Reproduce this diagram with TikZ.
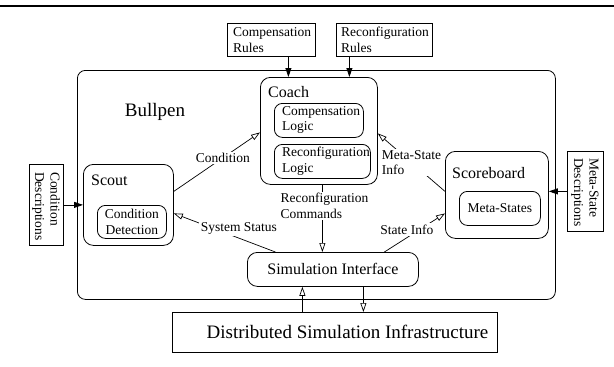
\documentclass[tikz,border=0pt]{standalone}
\usepackage{fontspec}
\setmainfont{Liberation Serif}
\usetikzlibrary{arrows.meta,calc}

\begin{document}
\begin{tikzpicture}[x=1pt,y=-1pt,
  rbox/.style={draw,line width=0.8pt,rounded corners=9pt,inner sep=0pt,anchor=north west},
  pbox/.style={draw,line width=0.8pt,inner sep=0pt,anchor=north west},
  small/.style={font=\fontsize{13.5}{15.5}\selectfont},
  mid/.style={font=\fontsize{16}{18}\selectfont},
  big/.style={font=\fontsize{19}{22}\selectfont},
  txt/.style={inner sep=0pt,align=left},
  feed/.style={-{Triangle[length=9pt,width=6pt]},line width=0.8pt},
  flow/.style={-{Triangle[open,length=9pt,width=6pt]},line width=0.7pt},
  lbl/.style={small,fill=white,inner sep=1.5pt,align=left}
]
\useasboundingbox (0,0) rectangle (614,367);

% rule across the top
\draw[line width=2.5pt] (0,6) -- (614,6);

% outer container
\node[rbox,rounded corners=8pt,minimum width=478pt,minimum height=229pt] (bullpen) at (77,70) {};
\node[big,txt] (bullpentext) at (155,112) {Bullpen};

% coach with its two logic blocks
\node[rbox,rounded corners=10pt,minimum width=117pt,minimum height=107pt] (coach) at (260,77) {};
\node[mid,txt,anchor=west] (coachtext) at (268,92) {Coach};
\node[rbox,rounded corners=8pt,minimum width=89pt,minimum height=34pt] (complogic) at (274,103) {};
\node[small,txt,anchor=west] (complogictext) at (282,120) {Compensation\\Logic};
\node[rbox,rounded corners=8pt,minimum width=96pt,minimum height=34pt] (reconflogic) at (274,144) {};
\node[small,txt,anchor=west] (reconflogictext) at (282,161) {Reconfiguration\\Logic};

% scout
\node[rbox,rounded corners=10pt,minimum width=90pt,minimum height=81pt] (scout) at (83,164) {};
\node[mid,txt,anchor=west] (scouttext) at (91,180) {Scout};
\node[rbox,rounded corners=8pt,minimum width=69pt,minimum height=33pt,small,align=center] (detect) at (97,205) {Condition\\Detection};

% scoreboard
\node[rbox,rounded corners=10pt,minimum width=103pt,minimum height=87pt] (scoreboard) at (445,151) {};
\node[mid,txt,anchor=west] (scoreboardtext) at (452,173) {Scoreboard};
\node[rbox,rounded corners=8pt,minimum width=81pt,minimum height=34pt,small] (metastates) at (459,191) {Meta-States};

% simulation side
\node[rbox,rounded corners=10pt,minimum width=171pt,minimum height=34pt,mid] (siminterface) at (247,252) {Simulation Interface};
\node[pbox,minimum width=325pt,minimum height=40pt] (dsi) at (172,312) {};
\node[big,txt] (dsitext) at (347.5,332) {Distributed Simulation Infrastructure};

% external inputs
\node[pbox,minimum width=88pt,minimum height=33pt] (comprules) at (227,23) {};
\node[small,txt,anchor=west] (comprulestext) at (233,40) {Compensation\\Rules};
\node[pbox,minimum width=96pt,minimum height=33pt] (reconfrules) at (336,23) {};
\node[small,txt,anchor=west] (reconfrulestext) at (341,40) {Reconfiguration\\Rules};
\node[pbox,minimum width=34pt,minimum height=81pt] (conddesc) at (29,164) {};
\node[small,txt,rotate=-90,anchor=west] (conddesctext) at (46,172) {Condition\\Descriptions};
\node[pbox,minimum width=36pt,minimum height=80pt] (metadesc) at (567,151) {};
\node[small,txt,rotate=-90,anchor=west] (metadesctext) at (585,158) {Meta-State\\Descriptions};

% inputs feeding the components
\coordinate (cr) at ([xshift=17pt]comprules.south);
\draw[feed] (cr) -- (cr |- coach.north);
\coordinate (rr) at ([xshift=-35pt]reconfrules.south);
\draw[feed] (rr) -- (rr |- coach.north);
\draw[feed] (conddesc.east) -- (scout.west);
\draw[feed] (metadesc.west) -- (metadesc.west -| scoreboard.east);

% flows between the components
\draw[flow] ([yshift=13.5pt]scout.east) -- ([yshift=-1.5pt]coach.west)
  node[lbl,pos=0.57] {Condition};
\draw[flow] ([yshift=3.5pt]scoreboard.west) -- ([yshift=-2.5pt]coach.east)
  node[lbl,pos=0.5] {Meta-State\\Info};
\draw[flow] ([xshift=-57.5pt]siminterface.north) -- ([yshift=-8.5pt]scout.east)
  node[lbl,pos=0.36,yshift=10pt] {System Status};
\draw[flow] ([xshift=51.5pt]siminterface.north) -- ([yshift=-18.5pt]scoreboard.west)
  node[lbl,pos=0.37,yshift=8pt] {State Info};
\coordinate (rc) at ([xshift=3.5pt]coach.south);
\draw[flow] (rc) -- (rc |- siminterface.north)
  node[lbl,pos=0.31,xshift=2pt] {Reconfiguration\\Commands};

% link to the simulation infrastructure
\coordinate (su) at ([xshift=-30.5pt]siminterface.south);
\draw[flow] (su |- dsi.north) -- (su);
\coordinate (sd) at ([xshift=30.5pt]siminterface.south);
\draw[flow] (sd) -- (sd |- dsi.north);
\end{tikzpicture}
\end{document}
